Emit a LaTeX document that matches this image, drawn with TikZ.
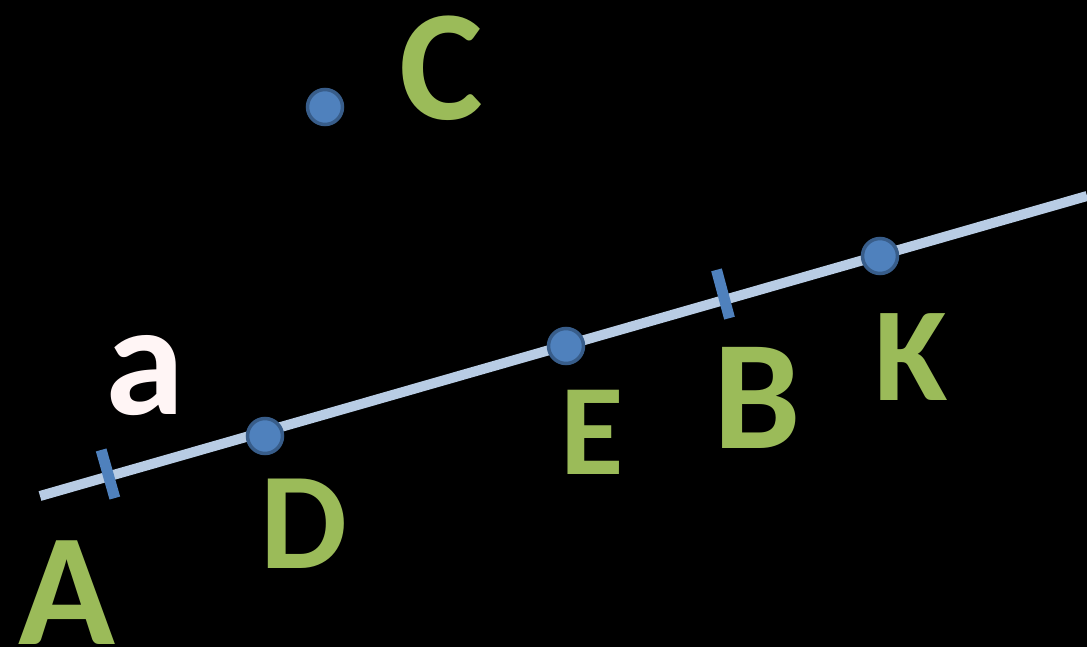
\documentclass[tikz,border=0pt]{standalone}
\usepackage{fontspec}
\setmainfont{Carlito}
\usetikzlibrary{calc}

\definecolor{linecol}{RGB}{184,204,228}
\definecolor{ptfill}{RGB}{79,129,189}
\definecolor{ptdraw}{RGB}{56,93,138}
\definecolor{labgreen}{RGB}{155,187,89}

\tikzset{
	pt/.style={circle,fill=ptfill,draw=ptdraw,line width=3.5pt,minimum size=35pt,inner sep=0pt},
	lab/.style={text=labgreen,font=\bfseries,inner sep=0pt},
	tickmark/.style={ptfill,line width=11pt}
}

\begin{document}
\begin{tikzpicture}[x=1pt,y=-1pt]
	\fill[black] (0,0) rectangle (1087,647);
	\useasboundingbox (0,0) rectangle (1087,647);
	% the line
	\coordinate (start) at (40,496);
	\coordinate (stop) at (1087,196);
	\draw[linecol,line width=10pt] (start) -- (stop);
	% tick marks
	\coordinate (tA) at (108,474);
	\coordinate (tB) at (723,294);
	\foreach \t in {tA,tB}
		\draw[tickmark] ($(\t)!25pt!90:(stop)$) -- ($(\t)!25pt!-90:(stop)$);
	% points
	\node[pt] (C) at (325,107) {};
	\node[pt] (D) at (265,436) {};
	\node[pt] (E) at (566,346) {};
	\node[pt] (K) at (880,256) {};
	% labels
	\node[lab,font=\bfseries\fontsize{158}{158}\selectfont] (labC) at (441,68) {C};
	\node[lab,font=\bfseries\fontsize{160}{160}\selectfont] (labA) at (67,593) {A};
	\node[lab,font=\bfseries\fontsize{138}{138}\selectfont] (labD) at (304,524) {D};
	\node[lab,font=\bfseries\fontsize{130}{130}\selectfont] (labE) at (592,432) {E};
	\node[lab,font=\bfseries\fontsize{156}{156}\selectfont] (labB) at (757,398) {B};
	\node[lab,font=\bfseries\fontsize{134}{134}\selectfont] (labK) at (911,357) {K};
	\node[lab,text=white!96!red,font=\bfseries\fontsize{160}{160}\selectfont] (laba) at (145,376) {a};
\end{tikzpicture}
\end{document}
